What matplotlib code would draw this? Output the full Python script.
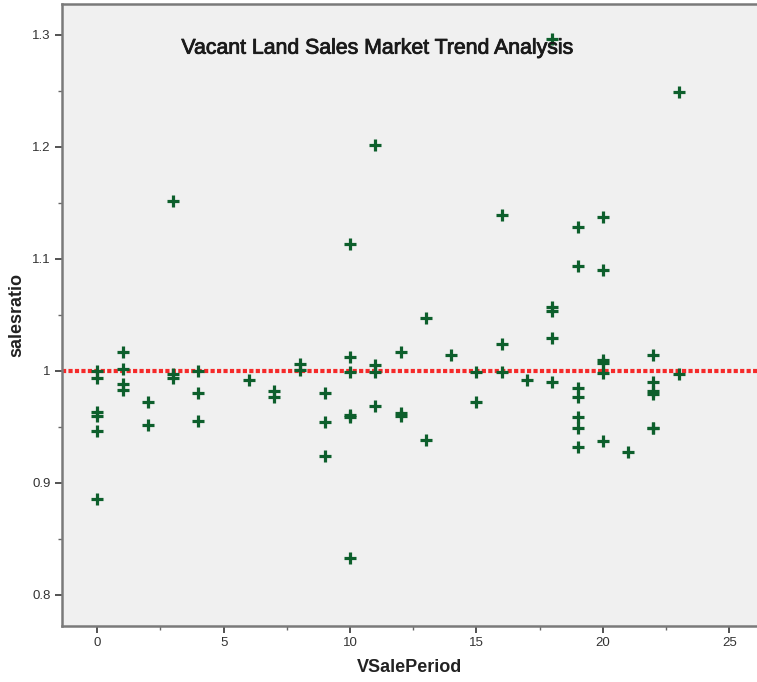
import matplotlib
matplotlib.use("Agg")
import matplotlib.pyplot as plt
import matplotlib.patheffects as pe
from matplotlib.ticker import MultipleLocator

plt.rcParams['font.family'] = ['Liberation Sans', 'DejaVu Sans']

title = "Vacant Land Sales Market Trend Analysis"
x_label = "VSalePeriod"
y_label = "salesratio"
reference_value = 1.0

sale_period = [
    0, 0, 0, 0, 0, 0,
    1, 1, 1, 1,
    2, 2,
    3, 3, 3,
    4, 4, 4,
    6,
    7, 7,
    8, 8,
    9, 9, 9,
    10, 10, 10, 10, 10, 10,
    11, 11, 11, 11,
    12, 12, 12,
    13, 13,
    14,
    15, 15,
    16, 16, 16,
    17,
    18, 18, 18, 18, 18,
    19, 19, 19, 19, 19, 19, 19,
    20, 20, 20, 20, 20, 20,
    21,
    22, 22, 22, 22, 22, 22,
    23, 23,
]
sales_ratio = [
    1.000, 0.994, 0.963, 0.960, 0.946, 0.886,
    1.017, 1.002, 0.988, 0.983,
    0.972, 0.952,
    1.152, 0.997, 0.994,
    1.000, 0.980, 0.955,
    0.992,
    0.982, 0.977,
    1.006, 1.001,
    0.980, 0.954, 0.924,
    1.113, 1.0125, 0.999, 0.961, 0.959, 0.833,
    1.202, 1.005, 0.999, 0.969,
    1.017, 0.962, 0.960,
    1.047, 0.938,
    1.014,
    0.999, 0.972,
    1.139, 1.024, 0.999,
    0.992,
    1.296, 1.057, 1.053, 1.029, 0.990,
    1.128, 1.094, 0.985, 0.977, 0.959, 0.949, 0.932,
    1.137, 1.090, 1.010, 1.007, 0.998, 0.937,
    0.928,
    1.014, 0.990, 0.982, 0.979, 0.949, 0.949,
    1.249, 0.997,
]

fig = plt.figure(figsize=(7.57, 6.82), dpi=100)
ax = fig.add_axes([62/757, 56/682, 1 - 62/757, 622/682])
ax.set_facecolor('#f0f0f0')

ax.axhline(reference_value, color='#f52a2a', lw=3.0, linestyle=(0, (1, 0.55)),
           dash_capstyle='butt', zorder=2)
ax.plot(sale_period, sales_ratio, linestyle='none', marker='+', markersize=9,
        markeredgewidth=2.3, color='#0d5f2c', zorder=3)

ax.set_xlim(-1.397, 26.1)
ax.set_ylim(0.7723, 1.3274)

ax.xaxis.set_major_locator(MultipleLocator(5))
ax.xaxis.set_minor_locator(MultipleLocator(2.5))
ax.yaxis.set_minor_locator(MultipleLocator(0.05))
ax.set_yticks([0.8, 0.9, 1.0, 1.1, 1.2, 1.3])
ax.set_yticklabels(['0.8', '0.9', '1', '1.1', '1.2', '1.3'])

ax.tick_params(axis='both', which='major', length=5, width=1.3, color='#444444',
               labelsize=9.5, labelcolor='#333333', pad=3)
ax.tick_params(axis='both', which='minor', length=3, width=1.0, color='#666666')

for side in ['left', 'bottom', 'top']:
    ax.spines[side].set_color('#7a7a7a')
    ax.spines[side].set_linewidth(1.8)
ax.spines['right'].set_visible(False)

ax.set_xlabel(x_label, fontsize=13, fontweight='bold', color='#222222', labelpad=7)
ax.set_ylabel(y_label, fontsize=13, fontweight='bold', color='#222222', labelpad=5)

ax.text(0.4535, 0.929, title, transform=ax.transAxes, ha='center', va='center',
        fontsize=15.3, color='#1a1a1a',
        path_effects=[pe.withStroke(linewidth=0.6, foreground='#1a1a1a')])

fig.savefig('out.png', dpi=100)
